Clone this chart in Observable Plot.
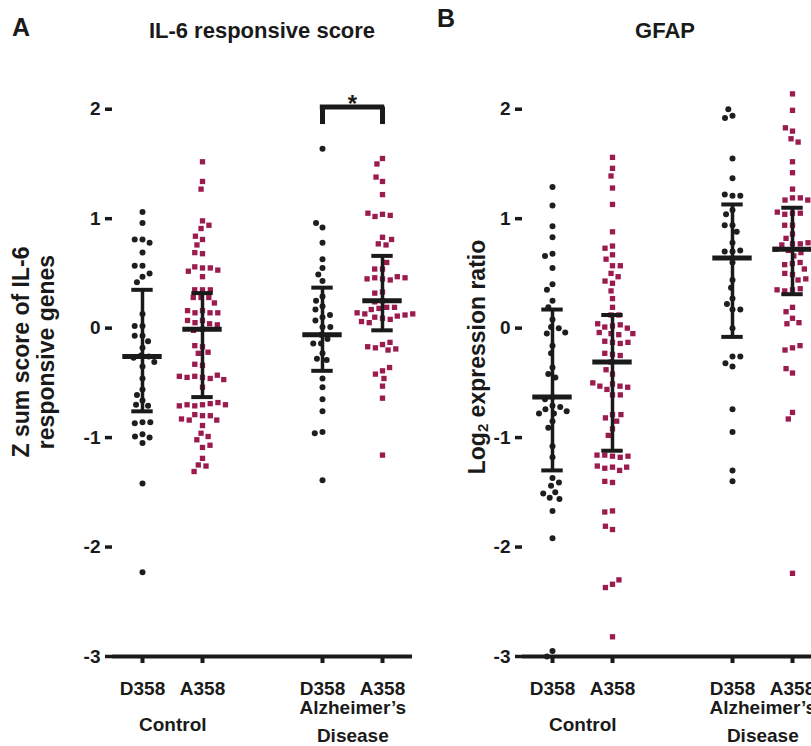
<!DOCTYPE html>
<html><head><meta charset="utf-8">
<script src="https://cdn.jsdelivr.net/npm/d3@7"></script>
<script src="https://cdn.jsdelivr.net/npm/@observablehq/plot@0.6"></script>
<style>
body{margin:0;background:#fff;overflow:hidden;font-family:"Liberation Sans",Arial,sans-serif;}
#wrap{position:relative;width:811px;height:746px;overflow:hidden;background:#fff;}
.lbl{position:absolute;font-weight:bold;color:#1a1a1a;white-space:nowrap;line-height:1;}
.panel{position:absolute;top:0;width:420px;height:746px;}
.panel svg{max-width:none !important;}
.rot{position:absolute;font-weight:bold;color:#1a1a1a;white-space:nowrap;text-align:center;transform:translate(-50%,-50%) rotate(-90deg);}
</style></head><body><div id="wrap"></div>
<script>
// ---- categories ----
const groups = ["Control D358", "Control A358", "AD D358", "AD A358"];
const strains = ["D358", "A358", "D358", "A358"];
const strainColors = ["#1f1d1e", "#9b1b4f"];
const strainSymbols = ["circle", "square"];
const conditionLabels = ["Control", "Alzheimer\u2019s", "Disease"];
const yTicks = [-3, -2, -1, 0, 1, 2];

// ---- Panel A: IL-6 responsive score ----
const il6CtrlD358 = [1.06, 0.96, 0.81, 0.81, 0.78, 0.69, 0.57, 0.57, 0.47, 0.50, 0.42, 0.13, 0.02, 0.02, -0.07, -0.07, -0.12, -0.18, -0.25, -0.26, -0.27, -0.31, -0.35, -0.46, -0.56, -0.61, -0.66, -0.70, -0.71, -0.86, -0.87, -0.86, -0.97, -0.99, -1.00, -1.05, -1.42, -2.23];
const il6CtrlA358 = [1.52, 1.34, 1.27, 0.98, 0.91, 0.94, 0.81, 0.84, 0.76, 0.68, 0.69, 0.55, 0.56, 0.55, 0.52, 0.53, 0.47, 0.35, 0.35, 0.35, 0.28, 0.28, 0.28, 0.16, 0.14, 0.14, 0.14, 0.16, 0.23, 0.07, 0.05, 0.04, 0.07, 0.03, -0.01, -0.02, -0.17, -0.16, -0.23, -0.22, -0.34, -0.33, -0.45, -0.44, -0.46, -0.43, -0.45, -0.47, -0.44, -0.54, -0.70, -0.71, -0.69, -0.70, -0.68, -0.70, -0.71, -0.80, -0.79, -0.80, -0.84, -0.84, -0.83, -0.89, -0.96, -0.99, -1.02, -1.09, -1.07, -1.19, -1.25, -1.26, -1.31];
const il6AdD358 = [1.64, 0.92, 0.96, 0.78, 0.63, 0.55, 0.49, 0.43, 0.29, 0.20, 0.25, 0.17, 0.10, 0.07, 0.12, 0.01, 0.01, -0.06, -0.10, -0.14, -0.14, -0.23, -0.28, -0.29, -0.46, -0.54, -0.65, -0.76, -0.95, -0.96, -1.39];
const il6AdA358 = [1.55, 1.50, 1.34, 1.38, 1.22, 1.04, 1.02, 1.03, 1.05, 0.83, 0.77, 0.76, 0.81, 0.54, 0.54, 0.60, 0.45, 0.46, 0.44, 0.45, 0.47, 0.46, 0.33, 0.32, 0.25, 0.24, 0.19, 0.18, 0.17, 0.19, 0.09, 0.10, 0.08, 0.11, 0.13, 0.12, 0.14, 0.13, 0.05, 0.06, -0.15, -0.18, -0.20, -0.13, -0.19, -0.17, -0.39, -0.42, -0.46, -0.36, -0.53, -0.64, -1.16];
const il6Mean = [-0.26, -0.01, -0.06, 0.25];
const il6Low = [-0.76, -0.63, -0.39, -0.02];
const il6High = [0.35, 0.32, 0.37, 0.66];
const il6Bracket = {from: "AD D358", to: "AD A358", y: 2.02, yLeg: 1.86, label: "*"};

// ---- Panel B: GFAP ----
const gfapCtrlD358 = [1.29, 1.12, 0.93, 0.83, 0.68, 0.66, 0.55, 0.40, 0.35, 0.25, 0.19, 0.08, 0.01, 0.00, -0.05, -0.04, -0.16, -0.23, -0.36, -0.42, -0.45, -0.63, -0.65, -0.71, -0.72, -0.74, -0.76, -0.78, -0.78, -0.85, -0.91, -1.08, -1.18, -1.37, -1.44, -1.41, -1.50, -1.55, -1.56, -1.51, -1.67, -1.92, -2.95, -3.00];
const gfapCtrlA358 = [1.56, 1.46, 1.39, 1.28, 1.13, 0.88, 0.75, 0.73, 0.67, 0.63, 0.57, 0.57, 0.50, 0.47, 0.41, 0.43, 0.34, 0.27, 0.19, 0.12, 0.12, 0.02, 0.01, 0.03, 0.00, 0.04, -0.05, -0.06, -0.04, -0.05, -0.13, -0.12, -0.14, -0.13, -0.24, -0.23, -0.25, -0.31, -0.42, -0.38, -0.51, -0.56, -0.53, -0.61, -0.53, -0.54, -0.50, -0.61, -0.79, -0.82, -0.85, -0.79, -0.92, -0.98, -1.17, -1.16, -1.18, -1.17, -1.16, -1.27, -1.28, -1.30, -1.27, -1.26, -1.41, -1.40, -1.67, -1.68, -1.84, -1.81, -2.34, -2.37, -2.30, -2.82];
const gfapAdD358 = [1.94, 1.92, 2.00, 1.55, 1.37, 1.21, 1.22, 1.21, 1.08, 1.04, 0.94, 0.94, 0.88, 0.78, 0.70, 0.70, 0.71, 0.60, 0.44, 0.37, 0.27, 0.22, 0.17, 0.17, 0.00, -0.26, -0.35, -0.32, -0.26, -0.74, -0.95, -1.30, -1.40];
const gfapAdA358 = [2.14, 1.99, 1.80, 1.83, 1.73, 1.70, 1.52, 1.42, 1.27, 1.19, 1.17, 1.19, 1.17, 1.05, 1.04, 1.05, 1.06, 0.94, 0.94, 0.86, 0.82, 0.77, 0.77, 0.76, 0.78, 0.72, 0.71, 0.66, 0.69, 0.59, 0.60, 0.58, 0.54, 0.49, 0.50, 0.44, 0.45, 0.35, 0.34, 0.36, 0.35, 0.19, 0.15, 0.09, 0.04, 0.05, -0.18, -0.20, -0.16, -0.41, -0.37, -0.77, -0.83, -2.24];
const gfapMean = [-0.63, -0.31, 0.64, 0.72];
const gfapLow = [-1.30, -1.12, -0.08, 0.31];
const gfapHigh = [0.17, 0.12, 1.13, 1.10];

// ---- layout ----
const W = 420, H = 746, ML = 110, MR = 7, MT = 54, MB = 90;
const BW = (W - ML - MR) / 5;
const SPACER = "gap";
const FX = [groups[0], groups[1], SPACER, groups[2], groups[3]];
const FONT = "Liberation Sans, Arial, sans-serif";
const yMin = yTicks[0];

function panel(values, mean, low, high, bracket) {
  const rows = values.flatMap((vals, i) => vals.map(v => ({group: groups[i], strain: strains[i], value: v})));
  const summary = groups.map((g, i) => ({group: g, strain: strains[i], mean: mean[i], lo: low[i], hi: high[i]}));
  const capInset = (BW - 22) / 2, meanInset = (BW - 40) / 2;
  const txt = {fontSize: 19, fontWeight: "bold", lineAnchor: "top", frameAnchor: "bottom"};
  const marks = [
    Plot.ruleY(FX, {fx: d => d, y: yMin, strokeWidth: 4}),
    Plot.axisY(yTicks, {facetAnchor: "left", tickSize: 7, tickPadding: 5, strokeWidth: 3.5, line: true, fontSize: 19, fontWeight: "bold", tickFormat: d => String(d), label: null}),
    Plot.ruleX(summary, {fx: "group", x: null, y1: yMin, y2: yMin, insetBottom: -7, strokeWidth: 4}),
    Plot.text(summary, {fx: "group", text: "strain", dy: 25, ...txt}),
    Plot.text([{first: groups[0], label: conditionLabels[0]}], {fx: "first", text: "label", dx: BW / 2, dy: 61, ...txt}),
    Plot.text([{first: groups[2], label: conditionLabels[1]}], {fx: "first", text: "label", dx: BW / 2, dy: 44, ...txt}),
    Plot.text([{first: groups[2], label: conditionLabels[2]}], {fx: "first", text: "label", dx: BW / 2, dy: 72, ...txt}),
    Plot.dot(rows, Plot.dodgeX({anchor: "middle", padding: 1.8}, {fx: "group", y: "value", r: 3, fill: "strain", symbol: "strain"})),
    Plot.ruleX(summary, {fx: "group", x: null, y1: "lo", y2: "hi", strokeWidth: 3.5}),
    Plot.tickY(summary, {fx: "group", y: "hi", insetLeft: capInset, insetRight: capInset, strokeWidth: 4}),
    Plot.tickY(summary, {fx: "group", y: "lo", insetLeft: capInset, insetRight: capInset, strokeWidth: 4}),
    Plot.tickY(summary, {fx: "group", y: "mean", insetLeft: meanInset, insetRight: meanInset, strokeWidth: 5})
  ];
  if (bracket) {
    marks.push(
      Plot.tickY([bracket], {fx: "from", y: "y", insetLeft: BW / 2 - 2.5, strokeWidth: 5}),
      Plot.tickY([bracket], {fx: "to", y: "y", insetRight: BW / 2 - 2.5, strokeWidth: 5}),
      Plot.ruleX([bracket], {fx: "from", x: null, y1: "yLeg", y2: "y", strokeWidth: 5}),
      Plot.ruleX([bracket], {fx: "to", x: null, y1: "yLeg", y2: "y", strokeWidth: 5}),
      Plot.text([bracket], {fx: "from", y: "y", text: "label", frameAnchor: "right", textAnchor: "middle", dy: -3, fontSize: 24, fontWeight: "bold"})
    );
  }
  return Plot.plot({
    width: W, height: H, marginLeft: ML, marginRight: MR, marginTop: MT, marginBottom: MB,
    style: {fontFamily: FONT, color: "#1a1a1a", background: "transparent", overflow: "visible"},
    fx: {domain: FX, paddingInner: 0, paddingOuter: 0, axis: null},
    y: {domain: [yMin, 2.5]},
    color: {domain: ["D358", "A358"], range: strainColors},
    symbol: {domain: ["D358", "A358"], range: strainSymbols},
    marks
  });
}

const wrap = document.getElementById("wrap");
function place(el, left) { const d = document.createElement("div"); d.className = "panel"; d.style.left = left + "px"; d.appendChild(el); wrap.appendChild(d); }
place(panel([il6CtrlD358, il6CtrlA358, il6AdD358, il6AdA358], il6Mean, il6Low, il6High, il6Bracket), 0);
place(panel([gfapCtrlD358, gfapCtrlA358, gfapAdD358, gfapAdA358], gfapMean, gfapLow, gfapHigh, null), 410);

function label(html, css) { const d = document.createElement("div"); d.className = "lbl"; d.innerHTML = html; Object.assign(d.style, css); wrap.appendChild(d); return d; }
label("A", {left: "12px", top: "15px", fontSize: "25px"});
label("B", {left: "437px", top: "6px", fontSize: "25px"});
label("IL-6 responsive score", {left: "262px", top: "20px", fontSize: "22px", transform: "translateX(-50%)"});
label("GFAP", {left: "665px", top: "20px", fontSize: "22px", transform: "translateX(-50%)"});
function rot(html, cx, cy, size, lh) { const d = document.createElement("div"); d.className = "rot"; d.innerHTML = html; Object.assign(d.style, {left: cx + "px", top: cy + "px", fontSize: size + "px", lineHeight: lh + "px"}); wrap.appendChild(d); }
rot("Z sum score of IL-6<br>responsive genes", 34, 352, 23, 25);
rot("Log<sub style='font-size:0.65em;vertical-align:-0.25em'>2</sub> expression ratio", 480, 357, 23, 25);
</script></body></html>
